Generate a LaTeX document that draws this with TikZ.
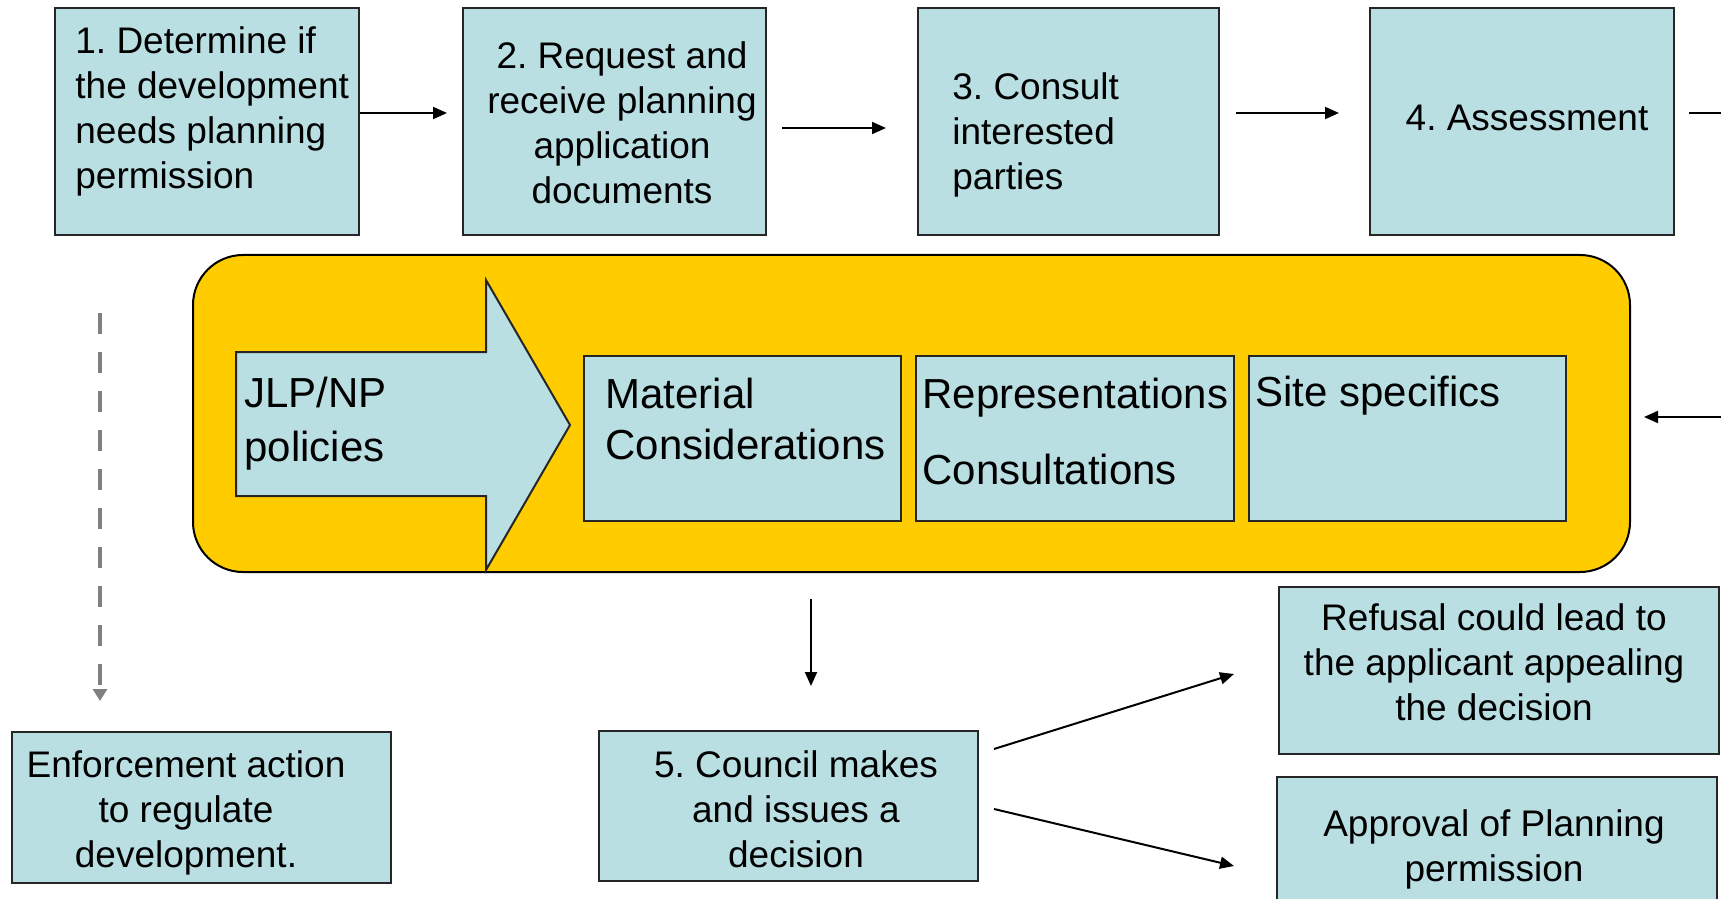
\documentclass[tikz,border=0pt]{standalone}
\usepackage{fontspec}
\setmainfont{Liberation Sans}
\frenchspacing
\usetikzlibrary{arrows.meta,fit}
\definecolor{boxblue}{HTML}{BADFE3}
\definecolor{panelgold}{HTML}{FFCC00}
\definecolor{dashgrey}{HTML}{808080}
\tikzset{
  box/.style={draw=black!85, line width=1pt, fill=boxblue, inner sep=0pt},
  panelbox/.style={draw=black, line width=1pt, fill=panelgold, inner sep=0pt, rounded corners=25pt},
  txt/.style={inner sep=0pt, font=\fontsize{18.5pt}{22.5pt}\selectfont},
  txtbig/.style={inner sep=0pt, font=\fontsize{21pt}{25.5pt}\selectfont},
  conn/.style={draw=black, line width=1pt, -{Triangle[length=7pt,width=6pt]}},
  dashconn/.style={draw=dashgrey, line width=2pt, dash pattern=on 10.5pt off 9pt, -{Triangle[length=6pt,width=7pt]}},
}
\begin{document}
\begin{tikzpicture}[x=0.5pt,y=-0.5pt]
\useasboundingbox (0,0) rectangle (1721,899);
\clip (0,0) rectangle (1721,899);
\fill[white] (0,0) rectangle (1721,899);

% top row
\node[box, fit={(55,8) (359,235)}] (b1) {};
\node[box, fit={(463,8) (766,235)}] (b2) {};
\node[box, fit={(918,8) (1219,235)}] (b3) {};
\node[box, fit={(1370,8) (1674,235)}] (b4) {};
\node[txt, anchor=west, align=left] (t1) at (75,111) {1. Determine if\\the development\\needs planning\\permission};
\node[txt, align=center] (t2) at (622,123) {2. Request and\\receive planning\\application\\documents};
\node[txt, anchor=west, align=left] (t3) at (952,135) {3. Consult\\interested\\parties};
\node[txt] (t4) at (1527,118) {4. Assessment};

% panel
\node[panelbox, fit={(193,255) (1630,572)}] (panel) {};
\draw[box] (236,352) -- (486,352) -- (486,280) -- (570,425) -- (486,570) -- (486,496) -- (236,496) -- cycle;
\node[txtbig, anchor=west, align=left, font=\fontsize{21pt}{27pt}\selectfont] (tj) at (244,424) {JLP/NP\\policies};
\node[box, fit={(584,356) (901,521)}] (m) {};
\node[box, fit={(916,356) (1234,521)}] (r) {};
\node[box, fit={(1249,356) (1566,521)}] (s) {};
\node[txtbig, anchor=west, align=left] (tm) at (605,419) {Material\\Considerations};
\node[txtbig, anchor=west, align=left] (tr) at (922,431) {Representations\\[12.5pt]Consultations};
\node[txtbig, anchor=west] (ts) at (1255,396) {Site specifics};

% bottom
\node[box, fit={(12,732) (391,883)}] (e) {};
\node[box, fit={(599,731) (978,881)}] (c) {};
\node[box, fit={(1279,587) (1719,754)}] (f) {};
\node[box, fit={(1277,777) (1717,940)}] (a) {};
\node[txt, align=center] (te) at (186,813) {Enforcement action\\to regulate\\development.};
\node[txt, align=center] (tc) at (796,809) {5. Council makes\\and issues a\\decision};
\node[txt, align=center] (tf) at (1494,662) {Refusal could lead to\\the applicant appealing\\the decision};
\node[txt, align=center] (ta) at (1494,849) {Approval of Planning\\permission};

% connectors
\draw[conn] ([yshift=4.25pt]b1.east) -- ([xshift=-7.5pt,yshift=4.25pt]b2.west);
\draw[conn] ([xshift=7.5pt,yshift=-3.25pt]b2.east) -- ([xshift=-15.5pt,yshift=-3.25pt]b3.west);
\draw[conn] ([xshift=8pt,yshift=4.25pt]b3.east) -- ([xshift=-15pt,yshift=4.25pt]b4.west);
\coordinate (offA) at (1740,113);
\coordinate (offB) at (1740,417);
\draw[draw=black, line width=1.4pt] ([xshift=7pt,yshift=4.25pt]b4.east) -- (offA);
\draw[conn] (offB) -- ([xshift=6.5pt,yshift=-1.75pt]panel.east);
\draw[conn] ([xshift=-50.25pt,yshift=-13pt]panel.south) -- ([xshift=11.25pt,yshift=22pt]c.north);
\draw[conn] ([xshift=7.5pt,yshift=28.5pt]c.east) -- ([xshift=-22pt,yshift=-1.75pt]f.west);
\draw[conn] ([xshift=7.5pt,yshift=-1.5pt]c.east) -- ([xshift=-21pt,yshift=-45pt]a.north west);
\coordinate (dtop) at (100,313);
\draw[dashconn] (dtop) -- ([xshift=-50.75pt,yshift=15pt]e.north);
\end{tikzpicture}
\end{document}
